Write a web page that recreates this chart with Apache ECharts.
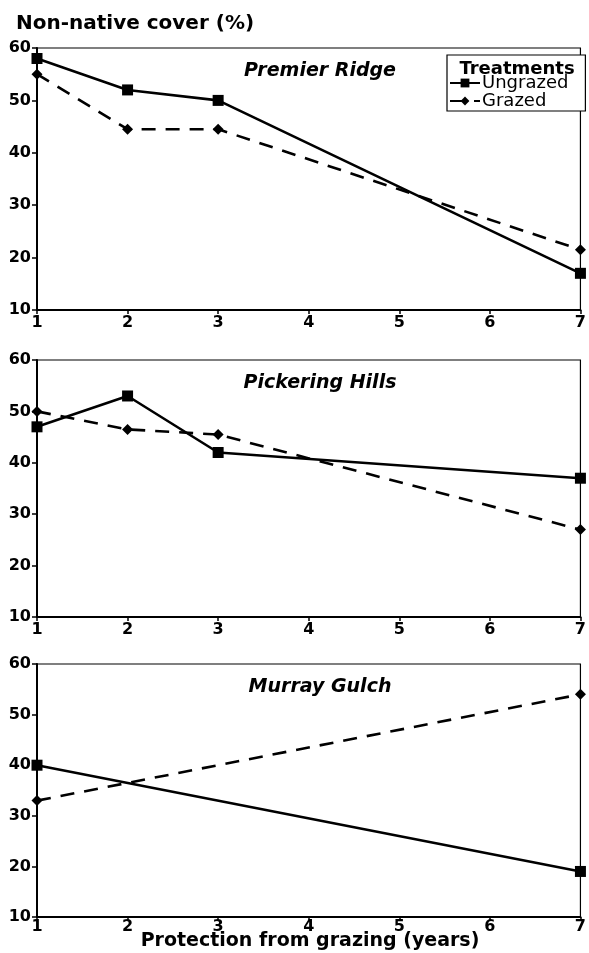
<!DOCTYPE html>
<html><head><meta charset="utf-8">
<script src="https://cdn.jsdelivr.net/npm/echarts@6/dist/echarts.min.js"></script>
<style>html,body{margin:0;padding:0;background:#fff}#c{width:589px;height:953px}</style>
</head><body><div id="c"></div>
<script>
const panelNames = ['Premier Ridge', 'Pickering Hills', 'Murray Gulch'];
const yearsPR = [1, 2, 3, 7];
const ungrazedPR = [58, 52, 50, 17];
const grazedPR = [55, 44.5, 44.5, 21.5];
const yearsPH = [1, 2, 3, 7];
const ungrazedPH = [47, 53, 42, 37];
const grazedPH = [50, 46.5, 45.5, 27];
const yearsMG = [1, 7];
const ungrazedMG = [40, 19];
const grazedMG = [33, 54];
const yTicks = [10, 20, 30, 40, 50, 60];
const xTicks = [1, 2, 3, 4, 5, 6, 7];

const panels = [
  {years: yearsPR, u: ungrazedPR, g: grazedPR},
  {years: yearsPH, u: ungrazedPH, g: grazedPH},
  {years: yearsMG, u: ungrazedMG, g: grazedMG}
];
const gridTops = [48, 360, 664];
const gridH = [262, 257, 253];
const FONT = '"DejaVu Sans", "Open Sans", sans-serif';
const tickLabel = {color: '#000', fontFamily: FONT, fontWeight: 'bold', fontSize: 16};

const grids = [], xAxes = [], yAxes = [], series = [], titles = [];
panels.forEach((p, i) => {
  grids.push({left: 37, width: 546, top: gridTops[i], height: gridH[i],
    show: true, borderColor: '#000', borderWidth: 1.2, backgroundColor: 'transparent'});
  xAxes.push({type: 'value', gridIndex: i, min: xTicks[0], max: xTicks[xTicks.length-1], interval: 1,
    axisLine: {lineStyle: {color: '#000', width: 2}},
    axisTick: {show: true, length: 4, lineStyle: {color: '#000', width: 1.5}},
    splitLine: {show: false},
    axisLabel: Object.assign({margin: i === 2 ? 2 : 5, formatter: v => xTicks.indexOf(v) >= 0 ? String(v) : ''}, tickLabel)});
  yAxes.push({type: 'value', gridIndex: i, min: yTicks[0], max: yTicks[yTicks.length-1], interval: 10,
    axisLine: {show: true, lineStyle: {color: '#000', width: 2}},
    axisTick: {show: true, length: 5, lineStyle: {color: '#000', width: 1.5}},
    splitLine: {show: false},
    axisLabel: Object.assign({margin: 6}, tickLabel)});
  series.push({name: 'Ungrazed', type: 'line', xAxisIndex: i, yAxisIndex: i,
    data: p.years.map((x, k) => [x, p.u[k]]),
    symbol: 'rect', symbolSize: 11, itemStyle: {color: '#000'},
    lineStyle: {color: '#000', width: 2.6, type: 'solid'}, clip: false, z: 3});
  series.push({name: 'Grazed', type: 'line', xAxisIndex: i, yAxisIndex: i,
    data: p.years.map((x, k) => [x, p.g[k]]),
    symbol: 'diamond', symbolSize: 11, itemStyle: {color: '#000'},
    lineStyle: {color: '#000', width: 2.6, type: [14, 10]}, clip: false, z: 2});
  titles.push({text: panelNames[i], left: 315, top: gridTops[i] + 9, textAlign: 'center',
    textStyle: {fontFamily: FONT, fontStyle: 'italic', fontWeight: 'bold', fontSize: 19, color: '#000'}});
});
titles.push({text: 'Non-native cover (%)', left: 11, top: 9,
  textStyle: {fontFamily: FONT, fontWeight: 'bold', fontSize: 20, color: '#000'}});
titles.push({text: 'Treatments', left: 512, top: 55, textAlign: 'center',
  textStyle: {fontFamily: FONT, fontWeight: 'bold', fontSize: 18, color: '#000'}});
titles.push({text: 'Protection from grazing (years)', left: 305, top: 927, textAlign: 'center',
  textStyle: {fontFamily: FONT, fontWeight: 'bold', fontSize: 19, color: '#000'}});

const chart = echarts.init(document.getElementById('c'), null, {renderer: 'canvas'});
chart.setOption({
  animation: false,
  backgroundColor: '#fff',
  title: titles,
  grid: grids, xAxis: xAxes, yAxis: yAxes, series: series,
  legend: {data: ['Ungrazed', 'Grazed'], orient: 'vertical', left: 447, top: 55,
    itemWidth: 30, itemHeight: 11, itemGap: 0,
    padding: [19, 17, 1, 2], borderColor: '#000', borderWidth: 1.2, backgroundColor: '#fff',
    textStyle: {fontFamily: FONT, fontSize: 18, lineHeight: 17, color: '#000', padding: [0, 0, 0, -3]}}
});
</script></body></html>
